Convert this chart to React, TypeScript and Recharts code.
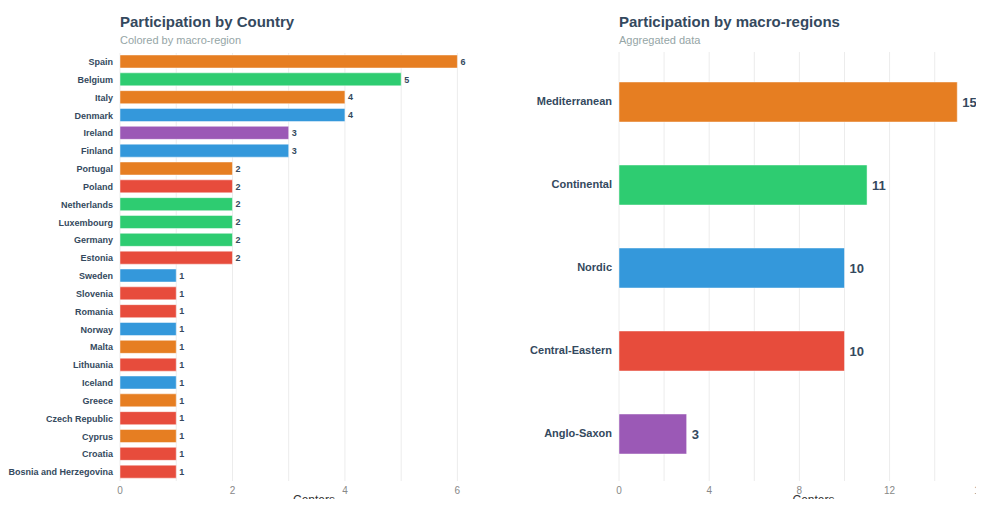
import { BarChart, Bar, XAxis, YAxis, CartesianGrid, Cell, LabelList, Label } from 'recharts';

const countries = [
  'Spain', 'Belgium', 'Italy', 'Denmark', 'Ireland', 'Finland', 'Portugal', 'Poland',
  'Netherlands', 'Luxembourg', 'Germany', 'Estonia', 'Sweden', 'Slovenia', 'Romania',
  'Norway', 'Malta', 'Lithuania', 'Iceland', 'Greece', 'Czech Republic', 'Cyprus',
  'Croatia', 'Bosnia and Herzegovina',
];
const countryCenters = [6, 5, 4, 4, 3, 3, 2, 2, 2, 2, 2, 2, 1, 1, 1, 1, 1, 1, 1, 1, 1, 1, 1, 1];
const countryRegions = [
  'Mediterranean', 'Continental', 'Mediterranean', 'Nordic', 'Anglo-Saxon', 'Nordic',
  'Mediterranean', 'Central-Eastern', 'Continental', 'Continental', 'Continental',
  'Central-Eastern', 'Nordic', 'Central-Eastern', 'Central-Eastern', 'Nordic',
  'Mediterranean', 'Central-Eastern', 'Nordic', 'Mediterranean', 'Central-Eastern',
  'Mediterranean', 'Central-Eastern', 'Central-Eastern',
];

const regions = ['Mediterranean', 'Continental', 'Nordic', 'Central-Eastern', 'Anglo-Saxon'];
const regionCenters = [15, 11, 10, 10, 3];

const regionColors = {
  Mediterranean: '#e67e22',
  Continental: '#2ecc71',
  Nordic: '#3498db',
  'Central-Eastern': '#e74c3c',
  'Anglo-Saxon': '#9b59b6',
};

const countryTicks = [0, 1, 2, 3, 4, 5, 6];
const regionTicks = [0, 2, 4, 6, 8, 10, 12, 14, 16];

const countryData = countries.map((name, i) => ({
  name,
  centers: countryCenters[i],
  region: countryRegions[i],
}));
const regionData = regions.map((name, i) => ({ name, centers: regionCenters[i] }));

const font = "'Helvetica Neue', Arial, 'Liberation Sans', sans-serif";
const dark = '#34495e';

function Title({ left, title, subtitle }) {
  return (
    <div style={{ position: 'absolute', left, top: 12, fontFamily: font }}>
      <div style={{ fontSize: 15, fontWeight: 700, color: dark, lineHeight: '20px' }}>{title}</div>
      <div style={{ fontSize: 11, color: '#95a5a6', lineHeight: '14px', marginTop: 1 }}>{subtitle}</div>
    </div>
  );
}

// plain one-line tick so long names don't wrap
function NameTick({ x, y, payload, size }) {
  return (
    <text x={x - 5} y={y} dy="0.35em" textAnchor="end" fontSize={size} fontWeight={700} fill={dark} fontFamily={font}>
      {payload.value}
    </text>
  );
}

export default function App() {
  return (
    <div
      style={{
        position: 'relative',
        width: 984,
        height: 507,
        margin: -8,
        overflow: 'hidden',
        background: '#fff',
        fontFamily: font,
      }}
    >
      <Title left={120} title="Participation by Country" subtitle="Colored by macro-region" />
      <Title left={619} title="Participation by macro-regions" subtitle="Aggregated data" />

      <div style={{ position: 'absolute', left: 0, top: 44 }}>
        <BarChart
          width={530}
          height={480}
          data={countryData}
          layout="vertical"
          margin={{ top: 9, right: 22, bottom: 0, left: 0 }}
          barSize={13}
        >
          <CartesianGrid horizontal={false} stroke="#ececec" verticalValues={countryTicks} />
          <XAxis
            type="number"
            domain={[0, (max) => max * 1.15]}
            ticks={countryTicks}
            tickFormatter={(v) => (v % 2 === 0 ? String(v) : '')}
            axisLine={false}
            tickLine={false}
            tickSize={4}
            height={43}
            tick={{ fontSize: 10, fill: '#888', fontFamily: font }}
          >
            <Label value="Centers" position="insideBottom" offset={20} style={{ fontSize: 12, fill: '#333', fontFamily: font }} />
          </XAxis>
          <YAxis
            type="category"
            dataKey="name"
            width={120}
            axisLine={false}
            tickLine={false}
            tickSize={0}
            interval={0}
            tick={(p) => <NameTick {...p} size={9} />}
          />
          <Bar dataKey="centers" isAnimationActive={false} stroke="rgba(255,255,255,0.45)" strokeWidth={1}>
            {countryData.map((d) => (
              <Cell key={d.name} fill={regionColors[d.region]} />
            ))}
            <LabelList dataKey="centers" position="right" offset={3} style={{ fontSize: 9, fontWeight: 700, fill: dark, fontFamily: font }} />
          </Bar>
        </BarChart>
      </div>

      <div style={{ position: 'absolute', left: 500, top: 44 }}>
        <BarChart
          width={515}
          height={480}
          data={regionData}
          layout="vertical"
          margin={{ top: 8, right: 7, bottom: 0, left: 0 }}
          barSize={40}
        >
          <CartesianGrid horizontal={false} stroke="#ececec" verticalValues={regionTicks} />
          <XAxis
            type="number"
            domain={[0, (max) => max * 1.15]}
            ticks={regionTicks}
            tickFormatter={(v) => (v % 4 === 0 ? String(v) : '')}
            axisLine={false}
            tickLine={false}
            tickSize={4}
            height={43}
            tick={{ fontSize: 10, fill: '#888', fontFamily: font }}
          >
            <Label value="Centers" position="insideBottom" offset={20} style={{ fontSize: 12, fill: '#333', fontFamily: font }} />
          </XAxis>
          <YAxis
            type="category"
            dataKey="name"
            width={119}
            axisLine={false}
            tickLine={false}
            tickSize={0}
            interval={0}
            padding={{ top: 8, bottom: 6 }}
            tick={(p) => <NameTick {...p} size={11} />}
          />
          <Bar dataKey="centers" isAnimationActive={false} stroke="rgba(255,255,255,0.45)" strokeWidth={1}>
            {regionData.map((d) => (
              <Cell key={d.name} fill={regionColors[d.name]} />
            ))}
            <LabelList dataKey="centers" position="right" offset={5} style={{ fontSize: 13, fontWeight: 700, fill: dark, fontFamily: font }} />
          </Bar>
        </BarChart>
      </div>
    </div>
  );
}
